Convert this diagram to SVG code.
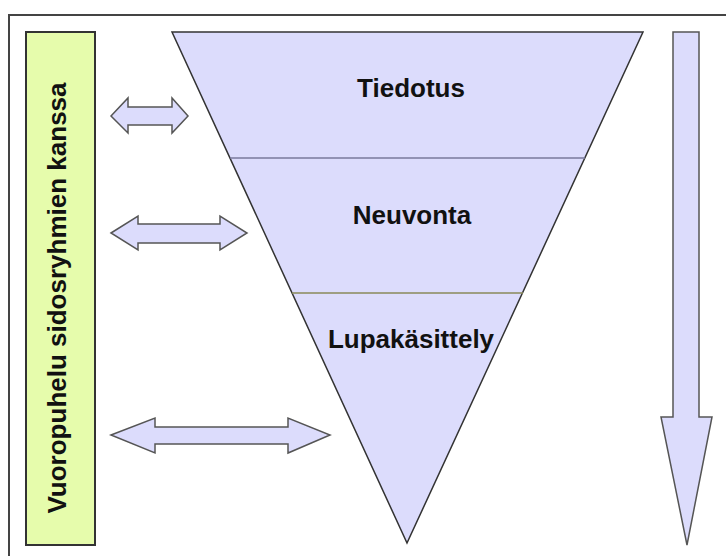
<svg xmlns="http://www.w3.org/2000/svg" width="726" height="556" viewBox="0 0 726 556">
<style>
.lbl{font-family:"Liberation Sans",Arial,sans-serif;font-weight:bold;font-size:26px;fill:#111;}
.arr{fill:#dcdcfc;stroke:#555;stroke-width:1.5;stroke-linejoin:miter;}
</style>
<rect x="0" y="0" width="726" height="556" fill="#fff"/>
<rect x="9" y="15" width="730" height="560" fill="none" stroke="#444" stroke-width="2"/>
<g id="side">
<rect x="26" y="32" width="69" height="513" fill="#e6fcac" stroke="#333" stroke-width="2"/>
<text class="lbl" transform="translate(66,298) rotate(-90)" text-anchor="middle">Vuoropuhelu sidosryhmien kanssa</text>
</g>
<g id="funnel">
<polygon points="172,32 643,32 407,543" fill="#dcdcfc" stroke="#333" stroke-width="1.5"/>
<line x1="230" y1="158" x2="585" y2="158" stroke="#7a7a9c" stroke-width="1.5"/>
<line x1="292" y1="293" x2="523" y2="293" stroke="#8a8a5a" stroke-width="1.5"/>
</g>
<g id="tiedotus"><text class="lbl" x="411" y="97" text-anchor="middle">Tiedotus</text></g>
<g id="neuvonta"><text class="lbl" x="412" y="224" text-anchor="middle">Neuvonta</text></g>
<g id="lupakasittely"><text class="lbl" x="411" y="348" text-anchor="middle">Lupakäsittely</text></g>
<g id="connectors">
<polygon class="arr" points="111,116 128,98 128,107 172,107 172,98 188,116 172,133 172,125 128,125 128,133"/>
<polygon class="arr" points="111,233 138,216 138,224 220,224 220,216 247,233 220,250 220,243 138,243 138,250"/>
<polygon class="arr" points="111,435 155,418 155,427 288,427 288,418 330,435 288,453 288,444 155,444 155,453"/>
<polygon class="arr" points="673,32 699,32 699,417 712,417 687,545 661,417 673,417"/>
</g>
</svg>
